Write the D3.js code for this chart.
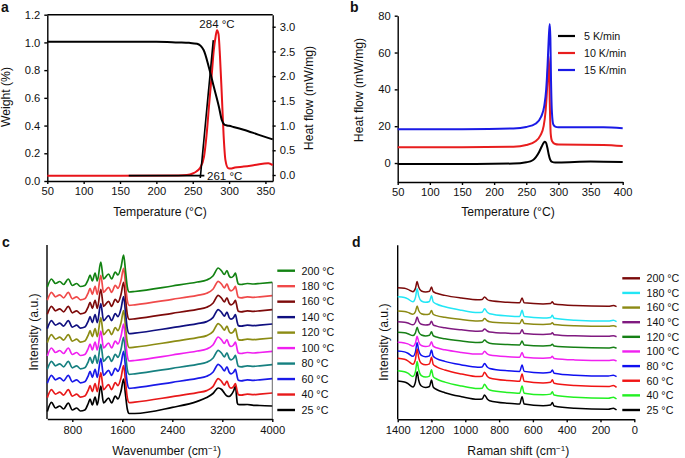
<!DOCTYPE html>
<html><head><meta charset="utf-8">
<script src="https://cdn.jsdelivr.net/npm/d3@7"></script>
<style>
body{margin:0;background:#fff}
svg{display:block}
text{font-family:"Liberation Sans",Arial,Helvetica,sans-serif;fill:#111}
.axis path,.axis line{stroke:#000;stroke-width:1.4}
.axis text{font-size:11.2px;fill:#111;font-family:"Liberation Sans",Arial,sans-serif}
</style>
</head><body>
<svg id="fig" width="685" height="458"></svg>
<script>
// ---------- Panel a data ----------
const tgaTemp   = [50,100,150,200,230,245,256,265,272,279,286,290,293,296,300,306,320,340,360];
const tgaWeight = [1.005,1.005,1.005,1.005,1.0,0.997,0.99,0.945,0.825,0.68,0.536,0.44,0.41,0.402,0.398,0.39,0.37,0.335,0.30];
const dscATemp  = [50,150,230,242,250,255,260,265.5,269,272.3,276,279,281.5,283.4,285.5,287.5,290.3,292.5,295,298.6,302,308,320,335,354,360];
const dscAHeat  = [-0.015,-0.015,-0.01,0.0,0.03,0.07,0.14,0.37,0.8,1.38,2.0,2.53,2.8,2.93,2.85,2.4,1.52,0.8,0.30,0.14,0.13,0.15,0.17,0.2,0.24,0.2];
const baseLineA  = [[162,-0.012],[266,-0.012]];
const onsetLineA = [[260.4,-0.06],[278.3,2.73]];
const weightTicks = [0,0.2,0.4,0.6,0.8,1.0,1.2];
const heatTicks   = [0,0.5,1.0,1.5,2.0,2.5,3.0];
const tempTicksA  = [50,100,150,200,250,300,350];

// ---------- Panel b data ----------
const rateLabels = ["5 K/min","10 K/min","15 K/min"];
const rateColors = ["#000000","#e81e1e","#1a1ae6"];
const bTemp5   = [50,150,230,250,260,265,270,274,277,279,281,283,285,287,290,295,300,350,400];
const bHeat5   = [-0.5,-0.5,-0.3,0.4,1.5,3.2,6,9,11,11.5,10.8,8,4.5,2,0.6,0.3,0.3,0.8,0.5];
const bTemp10  = [50,150,230,250,265,272,277,280,282,283.5,284.5,285.5,286.5,288,290,295,300,370,400];
const bHeat10  = [8.6,8.6,8.9,9.8,12,15,20,28,38,50,58,52,34,16,12,10.3,10,9.8,9.2];
const bTemp15  = [50,150,230,250,265,273,278,281,283,285,286.5,287.5,288.5,290,292,295,300,370,400];
const bHeat15  = [18.3,18.4,18.8,19.6,21.5,25,31,40,52,68,75.5,68,45,27,21,19.8,19.4,19.4,18.9];
const heatTicksB = [0,20,40,60,80];
const tempTicksB = [50,100,150,200,250,300,350,400];

// ---------- Panel c data (FTIR, stacked) ----------
const ftirTemps  = ["25 °C","40 °C","60 °C","80 °C","100 °C","120 °C","140 °C","160 °C","180 °C","200 °C"];
const ftirColors = ["#000000","#e8191a","#1a1ae8","#168080","#f020f0","#8c8c14","#101080","#7d0a0a","#f04a4a","#128212"];
const ftirOffset = [0,13.4,27.7,41.7,55,68.4,82.4,96.7,110.7,124];
const waveC      = [400,467,530,600,660,736,800,870,930,1000,1058,1085,1120,1165,1200,1256,1300,1380,1430,1487,1530,1580,1621,1650,1680,1710,1800,2400,2800,2950,3050,3135,3190,3232,3275,3310,3340,3380,3410,3440,3455,3500,3600,3700,3800,4000];
const ftirHeated = [8,16,11.5,13.5,10.5,16,9.5,11.5,8.5,9.5,16,20,14,22,14,33,16,21,16,23,20,28,40,25,8,3,3.5,9,13,15,19,27,24,20.5,24.5,19,17.5,19,22,14,11,10.5,11.5,11,11.5,12.6];
const ftirRoom   = [7.6,16.6,11,13,10,16,9,11,8,9,16,20,14,22,14,33,16,21,16,23,20,28,40,25,10,5.5,5.5,11.6,17.6,21.5,25.5,31,29.5,26,23,22.5,24,28,32.6,16,14.5,14.3,14.5,13.6,13.5,13];
const waveTicks  = [800,1600,2400,3200,4000];

// ---------- Panel d data (Raman, stacked) ----------
const ramanTemps  = ["200 °C","180 °C","160 °C","140 °C","120 °C","100 °C","80 °C","60 °C","40 °C","25 °C"];
const ramanColors = ["#7a0a0a","#22e6f5","#8c8a14","#801a80","#168016","#f020f0","#1010f0","#f01414","#22f022","#000000"];
const ramanOffset = [112.6,97.6,92.6,82.6,71,58.3,42.6,32,20.3,9.3];
const ramanScale  = [0.655,0.862,0.54,0.517,0.552,0.645,0.886,1.0,0.976,1.0];
const ramanShift  = [1400,1360,1340,1310,1295,1285,1276,1260,1235,1212,1200,1190,1170,1121,1022,926,900,886,870,856,747,678,664,652,540,495,485,475,352,154,124,105];
const ramanBase   = [29,28,26.5,23,28,38.3,30,24,22.5,23.5,30,23,20.5,17.3,13.3,10.7,11,15,11,9.3,6.7,6,13.3,6,4.3,5,7.5,4,1.7,0.7,1.7,0];
const ramanTicks  = [1400,1200,1000,800,600,400,200,0];

// ---------- drawing ----------
const svg = d3.select("#fig");
const F = d3.format(".1f");
const I = d3.format("d");

function label(x,y,txt,opts={}){
  const t = svg.append("text").attr("x",x).attr("y",y).text(txt)
    .style("font-size",(opts.size||12.2)+"px")
    .attr("text-anchor",opts.anchor||"middle");
  if(opts.rotate) t.attr("transform",`rotate(${opts.rotate},${x},${y})`);
  if(opts.bold) t.style("font-weight","bold");
  return t;
}
function axisStyle(g){ g.attr("class","axis"); }

// ===== Panel a =====
const xA = d3.scaleLinear([50,360],[47.3,272.7]);
const yW = d3.scaleLinear([0,1.2],[181,14.7]);
const yH = d3.scaleLinear([-0.1214,3.243],[181,14.7]);
svg.append("g").attr("transform","translate(0,181)")
  .call(d3.axisBottom(xA).tickValues(tempTicksA).tickFormat(I).tickSize(3).tickSizeOuter(0).tickPadding(3)).call(axisStyle);
svg.append("g").attr("transform","translate(47.3,0)")
  .call(d3.axisLeft(yW).tickValues(weightTicks).tickFormat(F).tickSize(3).tickSizeOuter(0).tickPadding(4)).call(axisStyle);
svg.append("g").attr("transform","translate(272.7,0)")
  .call(d3.axisRight(yH).tickValues(heatTicks).tickFormat(F).tickSize(3).tickSizeOuter(0).tickPadding(4)).call(axisStyle);
svg.append("line").attr("x1",xA(50)).attr("x2",xA(360)).attr("y1",yW(1.2)).attr("y2",yW(1.2))
  .attr("stroke","#000").attr("stroke-width",1.4);
const lineW = d3.line().x(d=>xA(d[0])).y(d=>yW(d[1])).curve(d3.curveMonotoneX);
const lineH = d3.line().x(d=>xA(d[0])).y(d=>yH(d[1])).curve(d3.curveMonotoneX);
svg.append("path").attr("d",lineH(d3.zip(dscATemp,dscAHeat))).attr("fill","none").attr("stroke","#e8141a").attr("stroke-width",2);
svg.append("path").attr("d",lineW(d3.zip(tgaTemp,tgaWeight))).attr("fill","none").attr("stroke","#000").attr("stroke-width",2);
const straightH = d3.line().x(d=>xA(d[0])).y(d=>yH(d[1]));
svg.append("path").attr("d",straightH(baseLineA)).attr("stroke","#000").attr("stroke-width",1.6).attr("fill","none");
svg.append("path").attr("d",straightH(onsetLineA)).attr("stroke","#000").attr("stroke-width",1.6).attr("fill","none");
label(217,28,"284 °C",{size:11.5});
label(207,179.5,"261 °C",{size:11.5,anchor:"start"});
label(10,97,"Weight (%)",{rotate:-90});
label(313,98,"Heat flow (mW/mg)",{rotate:-90});
label(160,216,"Temperature (°C)");
label(1,12,"a",{bold:true,size:14,anchor:"start"});

// ===== Panel b =====
const xB = d3.scaleLinear([50,400],[397.7,622.7]);
const yB = d3.scaleLinear([-10.3,80],[182,15.7]);
svg.append("g").attr("transform","translate(0,182)")
  .call(d3.axisBottom(xB).tickValues(tempTicksB).tickFormat(I).tickSize(3).tickSizeOuter(0).tickPadding(3)).call(axisStyle);
svg.append("g").attr("transform","translate(397.7,0)")
  .call(d3.axisLeft(yB).tickValues(heatTicksB).tickFormat(I).tickSize(3).tickSizeOuter(0).tickPadding(4)).call(axisStyle);
const lineB = d3.line().x(d=>xB(d[0])).y(d=>yB(d[1])).curve(d3.curveMonotoneX);
const bSeries = [d3.zip(bTemp5,bHeat5), d3.zip(bTemp10,bHeat10), d3.zip(bTemp15,bHeat15)];
bSeries.forEach((s,i)=>svg.append("path").attr("d",lineB(s)).attr("fill","none").attr("stroke",rateColors[i]).attr("stroke-width",2));
const legB = d3.scalePoint(rateLabels,[36,70]);
rateLabels.forEach((l,i)=>{
  svg.append("line").attr("x1",558).attr("x2",575).attr("y1",legB(l)).attr("y2",legB(l)).attr("stroke",rateColors[i]).attr("stroke-width",2.2);
  label(584,legB(l)+3.8,l,{size:10.7,anchor:"start"});
});
label(363,90,"Heat flow (mW/mg)",{rotate:-90});
label(508,215.5,"Temperature (°C)");
label(350,12,"b",{bold:true,size:14,anchor:"start"});

// ===== Panel c =====
const xC = d3.scaleLinear([400,4000],[47.3,272.3]);
const yC = d3.scaleLinear([0,174],[419,245]);
svg.append("g").attr("transform","translate(0,419)")
  .call(d3.axisBottom(xC).tickValues(waveTicks).tickFormat(I).tickSize(3).tickSizeOuter(0).tickPadding(4)).call(axisStyle);
svg.append("line").attr("x1",47).attr("x2",47).attr("y1",245).attr("y2",419).attr("stroke","#000").attr("stroke-width",1.4);
const lineC = d3.line().x(d=>xC(d[0])).y(d=>yC(d[1])).curve(d3.curveMonotoneX);
ftirTemps.forEach((t,i)=>{
  const shape = i===0 ? ftirRoom : ftirHeated;
  const pts = waveC.map((w,k)=>[w, shape[k]+ftirOffset[i]]);
  svg.append("path").attr("d",lineC(pts)).attr("fill","none").attr("stroke",ftirColors[i]).attr("stroke-width",1.7);
});
svg.append("line").attr("x1",xC(4000)).attr("x2",xC(4000))
  .attr("y1",yC(ftirHeated[ftirHeated.length-1]+ftirOffset[ftirOffset.length-1])).attr("y2",419)
  .attr("stroke","#444").attr("stroke-width",0.8);
const legC = d3.scalePoint(ftirTemps,[410,270.7]);
ftirTemps.forEach((t,i)=>{
  svg.append("line").attr("x1",277.3).attr("x2",295).attr("y1",legC(t)).attr("y2",legC(t)).attr("stroke",ftirColors[i]).attr("stroke-width",2.4);
  label(301.5,legC(t)+3.8,t,{size:10.7,anchor:"start"});
});
const wt = label(166.7,455,"Wavenumber (cm",{});
wt.append("tspan").text("−1").attr("dy",-4.5).style("font-size","8px");
wt.append("tspan").text(")").attr("dy",4.5);
label(38,332,"Intensity (a.u.)",{rotate:-90});
label(2,247,"c",{bold:true,size:14,anchor:"start"});

// ===== Panel d =====
const xD = d3.scaleLinear([1400,0],[397.7,634.3]);
const yD = d3.scaleLinear([0,174],[419.3,245.3]);
svg.append("g").attr("transform","translate(0,419.3)")
  .call(d3.axisBottom(xD).tickValues(ramanTicks).tickFormat(I).tickSize(3).tickSizeOuter(0).tickPadding(4)).call(axisStyle);
svg.append("line").attr("x1",397.7).attr("x2",397.7).attr("y1",245.3).attr("y2",419.3).attr("stroke","#000").attr("stroke-width",1.4);
const lineD = d3.line().x(d=>xD(d[0])).y(d=>yD(d[1])).curve(d3.curveMonotoneX);
ramanTemps.forEach((t,i)=>{
  const pts = ramanShift.map((s,k)=>[s, ramanOffset[i]+ramanScale[i]*ramanBase[k]]);
  svg.append("path").attr("d",lineD(pts)).attr("fill","none").attr("stroke",ramanColors[i]).attr("stroke-width",1.5);
});
const legD = d3.scalePoint(ramanTemps,[278.3,410]);
ramanTemps.forEach((t,i)=>{
  svg.append("line").attr("x1",622.3).attr("x2",640).attr("y1",legD(t)).attr("y2",legD(t)).attr("stroke",ramanColors[i]).attr("stroke-width",2.4);
  label(646.5,legD(t)+3.8,t,{size:10.7,anchor:"start"});
});
const rt = label(518.3,455,"Raman shift (cm",{});
rt.append("tspan").text("−1").attr("dy",-4.5).style("font-size","8px");
rt.append("tspan").text(")").attr("dy",4.5);
label(388,342,"Intensity (a.u.)",{rotate:-90});
label(352,247,"d",{bold:true,size:14,anchor:"start"});
</script>
</body></html>
